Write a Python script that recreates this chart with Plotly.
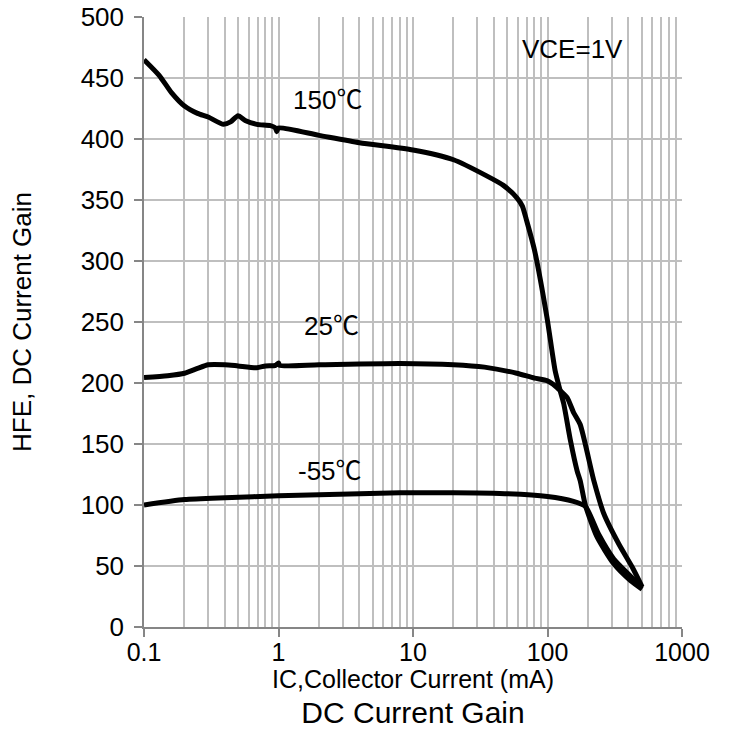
import math
import plotly.graph_objects as go

# Collector current (mA) and DC current gain for each temperature
ic_150 = [0.1, 0.13, 0.16, 0.2, 0.25, 0.3, 0.39, 0.44, 0.5, 0.57, 0.69, 0.87, 0.95, 0.97, 1.0,
          2, 4, 10, 20, 35, 47, 59, 65, 70, 80, 99, 114, 124, 132, 148, 166, 175, 191, 233, 310, 414, 505]
hfe_150 = [465, 452, 438, 427, 421, 418, 412, 414, 419, 415, 412, 411, 409, 406, 409,
           403, 397, 391, 383, 370, 362, 352, 345, 333, 309, 254, 210, 194, 183, 153, 128, 120, 100, 74, 52, 38, 31]

ic_25 = [0.1, 0.15, 0.2, 0.25, 0.3, 0.4, 0.5, 0.69, 0.8, 0.95, 1.0, 1.02, 2, 8, 20, 34, 59, 80,
         99, 110, 121, 140, 156, 175, 221, 262, 339, 427, 505]
hfe_25 = [204.5, 206, 208, 212, 215, 215, 214, 212.5, 214, 214.5, 216.5, 214.5, 215, 216, 215, 213, 208, 204,
          202, 199, 195, 188, 176, 166, 120, 93, 68, 49, 33]

ic_m55 = [0.1, 0.2, 0.4, 1.0, 8, 20, 44, 100, 156, 191, 240, 310, 420, 505]
hfe_m55 = [100, 104.5, 106, 107.5, 110, 110, 109.5, 107, 103, 99, 76, 56, 41, 32]

curve_labels = ["150℃", "25℃", "-55℃"]
label_x = [2.3, 2.46, 2.42]   # mA
label_y = [432, 247, 128]

y_ticks = [0, 50, 100, 150, 200, 250, 300, 350, 400, 450, 500]
x_ticks = [0.1, 1, 10, 100, 1000]
x_tick_text = ["0.1", "1", "10", "100", "1000"]

FONT = "Liberation Sans, Arial, Noto Sans CJK SC, sans-serif"
FS = 26
W, H = 729, 756

fig = go.Figure()
for xs, ys in [(ic_150, hfe_150), (ic_25, hfe_25), (ic_m55, hfe_m55)]:
    fig.add_trace(go.Scatter(x=xs, y=ys, mode="lines",
                             line=dict(color="black", width=5, shape="spline", smoothing=0.6),
                             showlegend=False, hoverinfo="skip"))

for t, lx, ly in zip(curve_labels, label_x, label_y):
    fig.add_annotation(x=math.log10(lx), y=ly, xref="x", yref="y", text=t, showarrow=False,
                       font=dict(size=FS, color="black", family=FONT))
fig.add_annotation(x=math.log10(153), y=474, xref="x", yref="y", text="VCE=1V", showarrow=False,
                   font=dict(size=FS, color="black", family=FONT))

# x-axis title
fig.add_annotation(x=0.5, y=0, xref="paper", yref="paper", yanchor="middle", yshift=-52,
                   text="IC,Collector Current (mA)", showarrow=False,
                   font=dict(size=25, color="black", family=FONT))

fig.update_layout(
    width=W, height=H,
    margin=dict(l=144, r=47, t=17, b=129),
    paper_bgcolor="white", plot_bgcolor="white",
    font=dict(family=FONT, color="black", size=FS),
    title=dict(text="DC Current Gain", x=0.5, xref="paper", y=1 - 712 / H, yref="container",
               xanchor="center", yanchor="middle", font=dict(size=30, color="black", family=FONT),
               automargin=False),
    xaxis=dict(
        type="log", range=[-1, 3], automargin=False,
        tickvals=x_ticks, ticktext=x_tick_text,
        ticks="outside", ticklen=8, tickcolor="#868686", tickwidth=1.5,
        showline=True, linecolor="#868686", linewidth=1.5,
        showgrid=True, gridcolor="#bfbfbf", gridwidth=1.5,
        minor=dict(dtick="D1", showgrid=True, gridcolor="#bfbfbf", gridwidth=1.5, ticks=""),
        tickfont=dict(size=25),
        ticklabelstandoff=-6,
        ticklabeloverflow="allow",
        zeroline=False,
    ),
    yaxis=dict(
        range=[0, 500], tickvals=y_ticks, automargin=False,
        ticks="outside", ticklen=8, tickcolor="#868686", tickwidth=1.5,
        showline=True, linecolor="#868686", linewidth=1.5,
        showgrid=True, gridcolor="#bfbfbf", gridwidth=1.5,
        tickfont=dict(size=FS),
        ticklabelstandoff=5,
        ticklabeloverflow="allow",
        title=dict(text="HFE, DC Current Gain", font=dict(size=FS), standoff=42),
        zeroline=False,
    ),
)

# remove the default 8px page margin so the figure fills the window exactly
fig.write_html("out.html", config={"displayModeBar": False},
               post_script="document.body.style.margin='0';")
